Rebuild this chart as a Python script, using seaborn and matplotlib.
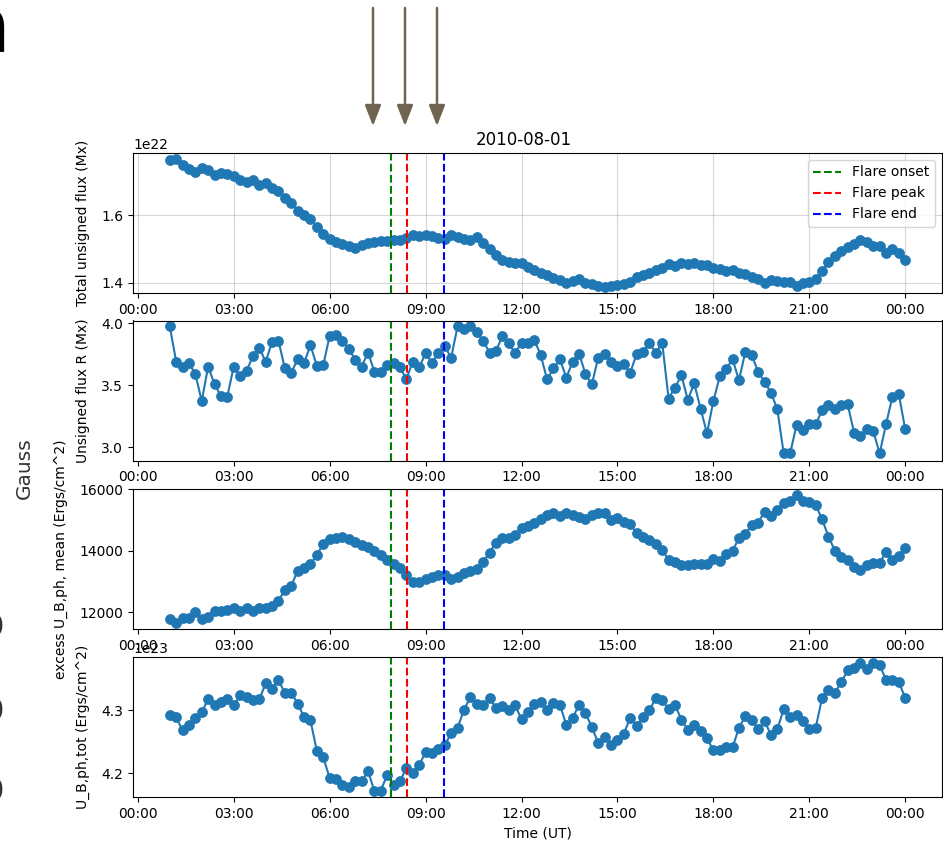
import matplotlib
matplotlib.use("Agg")
import matplotlib.pyplot as plt
import matplotlib.dates as mdates
import numpy as np
import pandas as pd
import seaborn as sns

# ---------------- data ----------------
start_time = "2010-08-01 01:00"
end_time = "2010-08-02 00:00"
cadence = "12min"

flux_total = [  # x 1e22 Mx
    1.763, 1.767, 1.750, 1.737, 1.728, 1.740, 1.735, 1.720, 1.725, 1.722,
    1.716, 1.704, 1.699, 1.704, 1.691, 1.696, 1.681, 1.671, 1.651, 1.638,
    1.612, 1.602, 1.589, 1.566, 1.545, 1.530, 1.521, 1.515, 1.508, 1.503,
    1.513, 1.518, 1.521, 1.523, 1.525, 1.528, 1.528, 1.533, 1.543, 1.538,
    1.541, 1.538, 1.533, 1.530, 1.541, 1.536, 1.530, 1.528, 1.536, 1.518,
    1.500, 1.483, 1.468, 1.463, 1.460, 1.458, 1.446, 1.438, 1.431, 1.424,
    1.414, 1.409, 1.401, 1.406, 1.411, 1.401, 1.397, 1.391, 1.389, 1.392,
    1.394, 1.397, 1.404, 1.417, 1.424, 1.429, 1.438, 1.445, 1.456, 1.450,
    1.460, 1.456, 1.458, 1.453, 1.453, 1.443, 1.440, 1.436, 1.438, 1.429,
    1.427, 1.419, 1.411, 1.401, 1.409, 1.406, 1.404, 1.404, 1.391, 1.401,
    1.404, 1.411, 1.436, 1.462, 1.480, 1.495, 1.506, 1.516, 1.528, 1.520,
    1.510, 1.510, 1.490, 1.500, 1.488, 1.467,
]

flux_R = [
    3.973, 3.691, 3.643, 3.678, 3.590, 3.373, 3.651, 3.508, 3.414, 3.409,
    3.651, 3.571, 3.616, 3.732, 3.803, 3.688, 3.852, 3.858, 3.635, 3.602,
    3.710, 3.678, 3.822, 3.656, 3.662, 3.897, 3.903, 3.858, 3.795, 3.704,
    3.651, 3.763, 3.608, 3.608, 3.662, 3.678, 3.643, 3.549, 3.691, 3.643,
    3.758, 3.683, 3.758, 3.812, 3.723, 3.973, 3.951, 3.978, 3.930, 3.858,
    3.763, 3.777, 3.893, 3.839, 3.758, 3.844, 3.844, 3.866, 3.742, 3.549,
    3.635, 3.710, 3.562, 3.688, 3.755, 3.590, 3.508, 3.723, 3.755, 3.688,
    3.656, 3.670, 3.602, 3.750, 3.769, 3.839, 3.763, 3.839, 3.393, 3.481,
    3.581, 3.382, 3.516, 3.312, 3.113, 3.373, 3.571, 3.630, 3.710, 3.540,
    3.769, 3.742, 3.608, 3.527, 3.441, 3.307, 2.952, 2.952, 3.178, 3.140,
    3.186, 3.186, 3.299, 3.339, 3.312, 3.339, 3.347, 3.119, 3.092, 3.151,
    3.132, 2.952, 3.186, 3.409, 3.428, 3.145,
]

u_mean = [
    11772, 11643, 11805, 11805, 12000, 11772, 11837, 12043, 12043, 12076,
    12130, 12043, 12130, 12043, 12130, 12130, 12206, 12379, 12725, 12855,
    13353, 13429, 13559, 13862, 14219, 14371, 14403, 14457, 14371, 14295,
    14187, 14132, 14002, 13862, 13700, 13570, 13429, 13213, 12997, 12997,
    13072, 13159, 13213, 13213, 13072, 13137, 13289, 13353, 13397, 13646,
    13938, 14262, 14403, 14403, 14511, 14727, 14803, 14911, 15019, 15160,
    15236, 15128, 15214, 15160, 15084, 15019, 15160, 15214, 15236, 14998,
    15052, 14943, 14868, 14565, 14435, 14349, 14219, 14024, 13700, 13646,
    13538, 13538, 13570, 13570, 13570, 13721, 13678, 13894, 14002, 14403,
    14543, 14835, 14911, 15268, 15128, 15322, 15560, 15625, 15809, 15625,
    15592, 15484, 15019, 14457, 14002, 13808, 13700, 13462, 13375, 13538,
    13592, 13592, 13970, 13700, 13829, 14078,
]

u_tot = [  # x 1e23 erg/cm^2
    4.292, 4.289, 4.268, 4.276, 4.288, 4.297, 4.318, 4.309, 4.313, 4.318,
    4.308, 4.324, 4.321, 4.316, 4.318, 4.343, 4.334, 4.348, 4.328, 4.328,
    4.311, 4.289, 4.284, 4.235, 4.225, 4.192, 4.190, 4.181, 4.177, 4.187,
    4.187, 4.203, 4.171, 4.172, 4.197, 4.181, 4.187, 4.208, 4.200, 4.213,
    4.233, 4.232, 4.238, 4.244, 4.264, 4.272, 4.301, 4.321, 4.311, 4.308,
    4.320, 4.304, 4.307, 4.300, 4.308, 4.286, 4.297, 4.311, 4.314, 4.300,
    4.312, 4.309, 4.277, 4.288, 4.309, 4.296, 4.273, 4.248, 4.257, 4.244,
    4.252, 4.263, 4.288, 4.275, 4.289, 4.300, 4.320, 4.316, 4.302, 4.309,
    4.285, 4.269, 4.276, 4.267, 4.256, 4.236, 4.236, 4.241, 4.241, 4.272,
    4.291, 4.285, 4.270, 4.283, 4.261, 4.270, 4.302, 4.289, 4.293, 4.283,
    4.270, 4.272, 4.320, 4.333, 4.328, 4.345, 4.364, 4.368, 4.375, 4.366,
    4.375, 4.372, 4.349, 4.349, 4.345, 4.320,
]

flare_labels = ["Flare onset", "Flare peak", "Flare end"]
flare_times = ["2010-08-01 07:55", "2010-08-01 08:25", "2010-08-01 09:35"]
flare_colors = ["green", "red", "blue"]

ylabels = [
    "Total unsigned flux (Mx)",
    "Unsigned flux R (Mx)",
    "excess U_B,ph, mean (Ergs/cm^2)",
    "U_B,ph,tot (Ergs/cm^2)",
]
title = "2010-08-01"
xlabel = "Time (UT)"

# ---------------- figure ----------------
W, H = 943, 844
fig = plt.figure(figsize=(W / 100, H / 100), dpi=100)

times = pd.date_range(start_time, end_time, freq=cadence)
series = [
    np.array(flux_total) * 1e22,
    np.array(flux_R),
    np.array(u_mean, dtype=float),
    np.array(u_tot) * 1e23,
]

# axes boxes in pixels: (top, bottom)
left_px, right_px = 133, 942
boxes = [(153, 293), (320.5, 460.5), (489, 629), (657, 797)]
ylims = [
    (1.3704e22, 1.7846e22),
    (2.895, 4.021),
    (11458, 16003),
    (4.1617e23, 4.3853e23),
]
yticks = [
    [1.4e22, 1.6e22],
    [3.0, 3.5, 4.0],
    [12000, 14000, 16000],
    [4.2e23, 4.3e23],
]

line_color = "#1f77b4"
axes = []
for k, (top, bot) in enumerate(boxes):
    ax = fig.add_axes([left_px / W, 1 - bot / H, (right_px - left_px) / W, (bot - top) / H])
    axes.append(ax)
    df = pd.DataFrame({"time": times, "value": series[k]})
    sns.lineplot(data=df, x="time", y="value", ax=ax, color=line_color,
                 marker="o", markersize=7.2, markeredgecolor=line_color,
                 markeredgewidth=0.5, linewidth=1.5)
    for lab, t, c in zip(flare_labels, flare_times, flare_colors):
        ax.axvline(pd.Timestamp(t), color=c, linestyle="--", linewidth=1.5,
                   label=lab if k == 0 else None)
    ax.set_ylim(*ylims[k])
    ax.set_yticks(yticks[k])
    ax.xaxis.set_major_locator(mdates.HourLocator(byhour=range(0, 24, 3)))
    ax.xaxis.set_major_formatter(mdates.DateFormatter("%H:%M"))
    ax.tick_params(labelsize=10)
    ax.yaxis.get_offset_text().set_fontsize(10)
    ax.set_ylabel(ylabels[k], fontsize=10, labelpad=8)
    ax.set_xlabel("")

axes[0].grid(True, color="#b0b0b0", alpha=0.5, linewidth=0.8)
axes[0].set_title(title, fontsize=12, x=(524 - left_px) / (right_px - left_px))
axes[0].legend(loc="upper right", fontsize=10)
axes[3].set_xlabel(xlabel, fontsize=10)

# ---------------- decorations from the source figure ----------------
arrow_color = "#6e6450"
for xp in [373, 405, 437]:
    fig.add_artist(matplotlib.patches.FancyArrowPatch(
        (xp / W, 1 - 8 / H), (xp / W, 1 - 126 / H), transform=fig.transFigure,
        arrowstyle="-|>,head_length=0.9,head_width=0.35", mutation_scale=14,
        color=arrow_color, linewidth=1.8, shrinkA=0, shrinkB=0))

fig.text(10 / W, 1 - 52 / H, "a", fontsize=58, fontweight="bold", ha="right",
         va="baseline", color="black")
fig.text(24 / W, 1 - 468 / H, "Gauss", fontsize=14.5, rotation=90,
         ha="center", va="center", color="#333333")
for yp in [627, 712, 792]:
    fig.text(-5.5 / W, 1 - yp / H, "0", fontsize=22, ha="center", va="center",
             color="#333333")

fig.savefig("out.png", dpi=100)
